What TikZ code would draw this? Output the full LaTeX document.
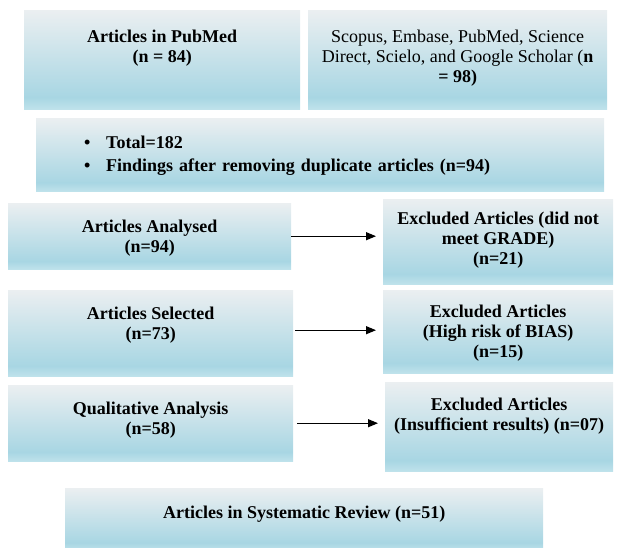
\documentclass[tikz,border=0pt]{standalone}
\usepackage{fontspec}
\setmainfont{Liberation Serif}
\usetikzlibrary{arrows.meta}
\definecolor{boxtop}{HTML}{EBEFF1}
\definecolor{boxblue}{HTML}{A8D6E3}
\definecolor{boxlow}{HTML}{BFE2EB}
\pgfdeclareverticalshading{boxfill}{100bp}{color(0bp)=(boxlow); color(25bp)=(boxlow); color(31bp)=(boxblue); color(75bp)=(boxtop); color(100bp)=(boxtop)}
\tikzset{
  box/.style={anchor=north west, shading=boxfill, inner xsep=3pt, inner ysep=0pt,
    align=center, font=\fontsize{18}{20}\selectfont\bfseries},
  flow/.style={-{Triangle[length=10pt,width=8pt]}, line width=1.2pt, shorten >=7pt}
}
\begin{document}
\begin{tikzpicture}[x=1pt,y=-1pt]
  \useasboundingbox (0,0) rectangle (619,547);
  % sources
  \node[box, minimum width=276, text height=52, text depth=47] (pubmed) at (24,10)
    {Articles in PubMed\\(n = 84)};
  \node[box, minimum width=299, text height=72, text depth=27] (databases) at (308,10)
    {\mdseries Scopus, Embase, PubMed, Science\\\mdseries Direct, Scielo, and Google Scholar (\textbf{n}\\= 98)};
  \node[box, align=left, text width=472, inner xsep=48, text height=30, text depth=43] (total) at (36,118)
    {\makebox[22pt][l]{\textbullet}Total=182\\[3pt]\makebox[22pt][l]{\textbullet}Findings after removing duplicate articles (n=94)};
  % screening
  \node[box, minimum width=283, text height=49, text depth=17] (analysed) at (8,203)
    {Articles Analysed\\(n=94)};
  \node[box, minimum width=230, text height=65, text depth=20] (grade) at (383,199)
    {Excluded Articles (did not\\meet GRADE)\\(n=21)};
  \node[box, minimum width=285, text height=49, text depth=37] (selected) at (8,290)
    {Articles Selected\\(n=73)};
  \node[box, minimum width=230, text height=67, text depth=16] (bias) at (383,290)
    {Excluded Articles\\(High risk of BIAS)\\(n=15)};
  \node[box, minimum width=285, text height=49, text depth=27] (qualitative) at (8,385)
    {Qualitative Analysis\\(n=58)};
  \node[box, minimum width=228, text height=48, text depth=41] (insufficient) at (385,382)
    {Excluded Articles\\(Insufficient results) (n=07)};
  \node[box, minimum width=478, text height=30, text depth=32] (review) at (65,488)
    {Articles in Systematic Review (n=51)};
  % exclusions
  \draw[flow] (analysed.east) -- (analysed.east -| grade.west);
  \draw[flow] ([xshift=2,yshift=3]selected.east) -- ([yshift=3]selected.east -| bias.west);
  \draw[flow] ([xshift=4]qualitative.east) -- (qualitative.east -| insufficient.west);
\end{tikzpicture}
\end{document}
